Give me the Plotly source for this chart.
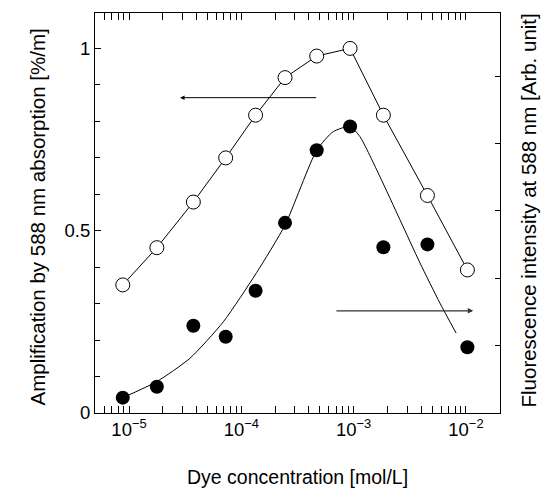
import plotly.graph_objects as go
import numpy as np

# Data
conc = [8.8e-6, 1.77e-5, 3.74e-5, 7.26e-5, 1.34e-4, 2.45e-4, 4.69e-4, 9.3e-4, 1.84e-3, 4.54e-3, 1.03e-2]
amplification = [0.351, 0.453, 0.578, 0.699, 0.816, 0.919, 0.978, 0.999, 0.816, 0.596, 0.392]
fluorescence = [0.042, 0.072, 0.239, 0.209, 0.335, 0.521, 0.720, 0.785, 0.454, 0.462, 0.180]

# Smooth guide curve through fluorescence data
fit_conc = [8.8e-6, 1.766e-5, 3.49e-5, 6.92e-5, 1.371e-4, 2.45e-4, 4.69e-4, 6.59e-4, 9.3e-4,
            1.14e-3, 1.718e-3, 2.59e-3, 3.90e-3, 5.87e-3, 8.17e-3]
fit_y = [0.042, 0.086, 0.150, 0.250, 0.385, 0.515, 0.720, 0.771, 0.785,
         0.757, 0.647, 0.529, 0.411, 0.301, 0.219]

xticks = [1e-5, 1e-4, 1e-3, 1e-2]
xticktext = ["10<sup>\u22125</sup>", "10<sup>\u22124</sup>", "10<sup>\u22123</sup>", "10<sup>\u22122</sup>"]
xminor = [m * 10.0 ** e for e in range(-6, -1) for m in range(2, 10)]
yticks = [0, 0.5, 1]
yticklabels = ["0", "0.5", "1"]
yminor = [0.1, 0.2, 0.3, 0.4, 0.6, 0.7, 0.8, 0.9]
y2ticks = [1, 2, 3, 4, 5]

FONT = "Arial, Liberation Sans, sans-serif"

fig = go.Figure()
fig.add_trace(go.Scatter(
    x=fit_conc, y=fit_y, mode="lines", line=dict(color="black", width=1, shape="spline", smoothing=0.6),
    hoverinfo="skip", showlegend=False))
fig.add_trace(go.Scatter(
    x=conc, y=amplification, mode="lines+markers",
    line=dict(color="black", width=1),
    marker=dict(symbol="circle", size=14, color="white", line=dict(color="black", width=1)),
    showlegend=False))
fig.add_trace(go.Scatter(
    x=conc, y=fluorescence, mode="markers",
    marker=dict(symbol="circle", size=14, color="black", line=dict(color="black", width=0)),
    showlegend=False))

# invisible trace on secondary axis
fig.add_trace(go.Scatter(x=[1e-5], y=[0], yaxis="y2", mode="markers",
                         marker=dict(opacity=0), hoverinfo="skip", showlegend=False))

fig.update_layout(
    width=548, height=481,
    margin=dict(l=87, r=56, t=5, b=76),
    paper_bgcolor="white", plot_bgcolor="white",
    font=dict(family=FONT, size=19, color="black"),
    xaxis=dict(
        type="log", range=[np.log10(4.98e-6), np.log10(2.01e-2)],
        tickvals=xticks, ticktext=xticktext, ticks="inside", ticklen=7, tickwidth=1,
        tickcolor="black", showline=True, linecolor="black", linewidth=1, mirror="allticks",
        showgrid=False, zeroline=False, tickfont=dict(size=18.5),
        minor=dict(tickvals=xminor, ticks="inside", ticklen=4, tickcolor="black", showgrid=False),
    ),
    yaxis=dict(
        range=[0, 1.096], tickvals=yticks, ticktext=yticklabels, ticks="inside", ticklen=6,
        tickwidth=1, tickcolor="black", showline=True, linecolor="black", linewidth=1,
        mirror=True, showgrid=False, zeroline=False, tickfont=dict(size=18.5),
        minor=dict(tickvals=yminor, ticks="inside", ticklen=5, tickcolor="black", showgrid=False),
    ),
    yaxis2=dict(
        overlaying="y", side="right", range=[0, 5.94], tickvals=y2ticks,
        ticks="inside", ticklen=5, tickcolor="black", showticklabels=False,
        showgrid=False, zeroline=False, showline=False,
    ),
)

annotations = [
    dict(text="Dye concentration [mol/L]", xref="paper", yref="paper", x=0.5, y=0,
         yshift=-64, yanchor="middle", showarrow=False, font=dict(size=19.5)),
    dict(text="Amplification by 588 nm absorption [%/m]", xref="paper", yref="paper",
         x=0, xshift=-72, y=0.49, textangle=-90, showarrow=False, font=dict(size=20.5)),
    dict(text="Fluorescence intensity at 588 nm [Arb. unit]", xref="paper", yref="paper",
         x=1, xshift=41, y=0.505, textangle=-90, showarrow=False, font=dict(size=20.5)),
    # arrows
    dict(x=np.log10(2.85e-5), y=0.864, ax=np.log10(4.79e-4), ay=0.864, xref="x", yref="y",
         axref="x", ayref="y", showarrow=True, arrowhead=2, arrowsize=0.9, arrowwidth=1,
         arrowcolor="black", text=""),
    dict(x=np.log10(1.16e-2), y=0.280, ax=np.log10(6.82e-4), ay=0.280, xref="x", yref="y",
         axref="x", ayref="y", showarrow=True, arrowhead=2, arrowsize=0.9, arrowwidth=1.2,
         arrowcolor="#333333", text=""),
]
fig.update_layout(annotations=annotations)

fig.write_html("out.html")
